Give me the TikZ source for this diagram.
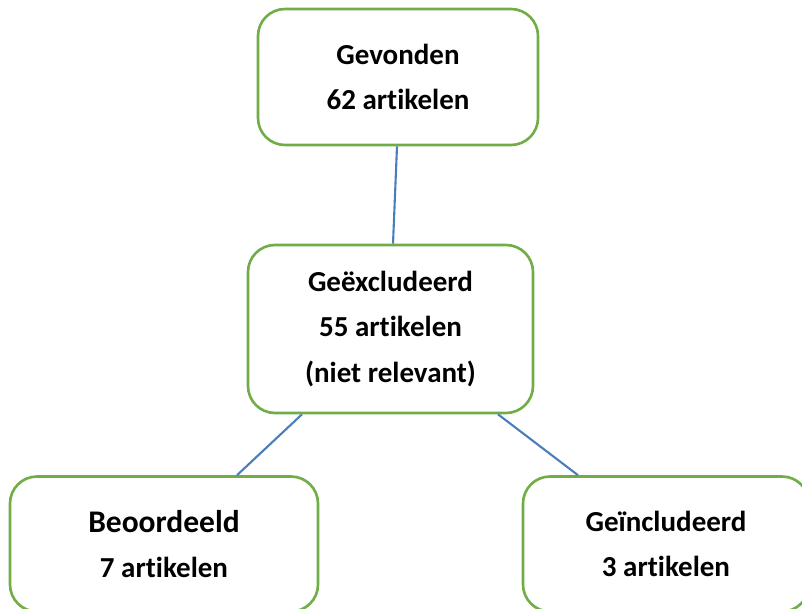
\documentclass[tikz,border=0pt]{standalone}
\usepackage{fontspec}
\setmainfont{Carlito}[Ligatures=NoCommon]
\usepackage{xcolor}
\usetikzlibrary{positioning}

\definecolor{boxgreen}{RGB}{112,173,71}
\definecolor{lineblue}{RGB}{74,126,187}

\tikzset{
    stapbox/.style={draw=boxgreen, line width=2.6pt, rounded corners=27pt, fill=white,
        align=center, inner sep=0pt, font=\fontsize{29}{45.5}\selectfont\bfseries},
    link/.style={draw=lineblue, line width=2.1pt}
}

\begin{document}
\begin{tikzpicture}[x=1pt, y=1pt]
    \useasboundingbox (0,0) rectangle (802,608);

    \node[stapbox, minimum width=280pt, minimum height=136pt] (gevonden) at (398,531)
        {Gevonden\\62 artikelen};
    \node[stapbox, minimum width=285pt, minimum height=168pt] (excl) at (390.5,279)
        {Geëxcludeerd\\55 artikelen\\(niet relevant)};
    \node[stapbox, minimum width=308pt, minimum height=135pt] (beoord) at (164,64)
        {{\fontsize{31.5}{45.5}\selectfont Beoordeeld}\\7 artikelen};
    \node[stapbox, minimum width=286pt, minimum height=135pt] (incl) at (666,64)
        {Geïncludeerd\\3 artikelen};

    % lijnen tussen de boxen
    \draw[link] ([xshift=-1pt]gevonden.south) -- ([xshift=2.5pt]excl.north);
    \draw[link] ([xshift=-88.5pt]excl.south) -- ([xshift=73pt]beoord.north);
    \draw[link] ([xshift=107.5pt]excl.south) -- ([xshift=-88pt]incl.north);
\end{tikzpicture}
\end{document}
